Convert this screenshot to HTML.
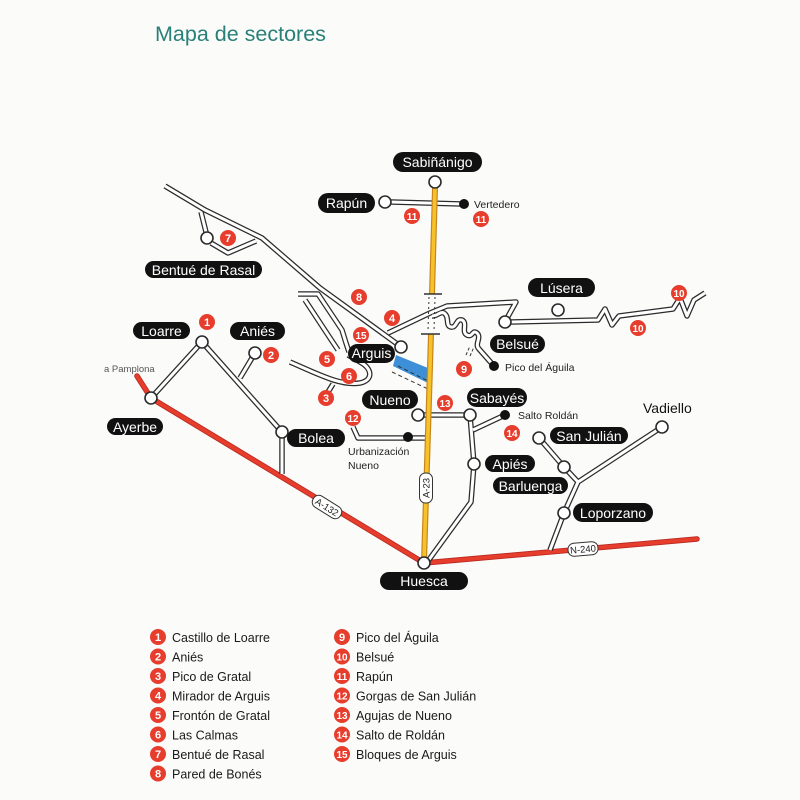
<!DOCTYPE html>
<html><head><meta charset="utf-8">
<style>
html,body{margin:0;padding:0;background:#fbfbfa;}
svg{display:block;}
text{font-family:"Liberation Sans",sans-serif;}
</style></head>
<body>
<svg width="800" height="800" viewBox="0 0 800 800" xmlns="http://www.w3.org/2000/svg">
<rect width="800" height="800" fill="#fbfbfa"/>
<text x="155" y="41" font-size="21.5" fill="#2a8078">Mapa de sectores</text>

<defs>
 <path id="r1" d="M165,186 L205,210 L262,238 L320,288 L400,346"/>
 <path id="r2" d="M388,333 L430,313 L447,306 L516,302 L506,320"/>
 <path id="r3" d="M201,212 L207,236 M211,243 L228,253 L256,241"/>
 <path id="r4" d="M391,202 L462,204"/>
 <path id="r5" d="M511,322 L598,320 L605,309 L612,325 L619,316 L673,309 L680,298 L687,316 L694,300 L705,293"/>
 <path id="r6" d="M432,316 C438,316 440,311 444,313 C450,317 445,326 451,327 C457,328 456,318 462,320 C468,323 461,332 467,335 C473,338 472,329 477,333 C482,338 474,344 479,349 L494,366"/>
 <path id="r7" d="M151,398 L202,342 L282,432 L282,474 M255,353 L240,378"/>
 <path id="r8" d="M418,415 L470,415 M470,415 L474,464 L471,502 L428,561 M473,430 L505,415"/>
 <path id="r9" d="M353,427 L358,438 L425,438"/>
 <path id="r10" d="M539,438 L564,467 L578,482 M662,427 L578,482 L564,513 L550,550"/>
 <path id="r11" d="M298,294 L318,294 L342,330 L346,343 L349,352 M305,300 L330,338 L338,350"/>
 <path id="r12" d="M290,362 C318,374 340,386 360,383 C374,380 372,368 360,362 L348,355 M333,384 L328,392"/>
</defs>

<!-- red roads -->
<g fill="none" stroke-linecap="round" stroke-linejoin="round">
 <path d="M137,376 L151,398 L424,563" stroke="#b82a20" stroke-width="5.5"/>
 <path d="M137,376 L151,398 L424,563" stroke="#e63d2d" stroke-width="3.8"/>
 <path d="M424,563 L697,539" stroke="#b82a20" stroke-width="5.5"/>
 <path d="M424,563 L697,539" stroke="#e63d2d" stroke-width="3.8"/>
</g>

<!-- reservoir -->
<polygon points="396,355 428,368 428,383 393,366" fill="#3d8fd8"/>
<g stroke="#333" stroke-width="1" stroke-dasharray="4,3" fill="none">
 <path d="M392,372 L428,389"/>
 <path d="M398,366 L428,381"/>
</g>

<!-- white double roads -->
<g fill="none" stroke="#2b2b2b" stroke-width="5.5" stroke-linejoin="round" stroke-linecap="butt">
 <use href="#r1"/><use href="#r2"/><use href="#r3"/><use href="#r4"/><use href="#r5"/><use href="#r6"/>
 <use href="#r7"/><use href="#r8"/><use href="#r9"/><use href="#r10"/><use href="#r11"/><use href="#r12"/>
</g>
<g fill="none" stroke="#ffffff" stroke-width="3" stroke-linejoin="round" stroke-linecap="butt">
 <use href="#r1"/><use href="#r2"/><use href="#r3"/><use href="#r4"/><use href="#r5"/><use href="#r6"/>
 <use href="#r7"/><use href="#r8"/><use href="#r9"/><use href="#r10"/><use href="#r11"/><use href="#r12"/>
</g>
<path d="M466,355 L470,346 M470,356 L474,347" stroke="#333" stroke-width="1" stroke-dasharray="3,2"/>

<!-- A-23 yellow -->
<g fill="none">
 <path d="M435,188 L432,294" stroke="#c8861a" stroke-width="6"/>
 <path d="M435,188 L432,294" stroke="#f7c229" stroke-width="3.6"/>
 <path d="M431,334 L424,562" stroke="#c8861a" stroke-width="6"/>
 <path d="M431,334 L424,562" stroke="#f7c229" stroke-width="3.6"/>
 <path d="M424,294 L442,294 M421,334 L440,334" stroke="#333" stroke-width="1.5"/>
 <path d="M429,297 L428,331 M435,297 L434,331" stroke="#333" stroke-width="1" stroke-dasharray="2,3"/>
</g>

<!-- shields -->
<g transform="translate(426,488) rotate(-90)">
 <rect x="-15" y="-6.5" width="30" height="13" rx="6" fill="#fff" stroke="#333" stroke-width="1"/>
 <text x="0" y="3.5" font-size="9.5" text-anchor="middle" fill="#222">A-23</text>
</g>
<g transform="translate(327,507) rotate(32)">
 <rect x="-16" y="-6.5" width="32" height="13" rx="6" fill="#fff" stroke="#333" stroke-width="1"/>
 <text x="0" y="3.5" font-size="9.5" text-anchor="middle" fill="#222">A-132</text>
</g>
<g transform="translate(583,549) rotate(-5)">
 <rect x="-15" y="-6.5" width="30" height="13" rx="6" fill="#fff" stroke="#333" stroke-width="1"/>
 <text x="0" y="3.5" font-size="9.5" text-anchor="middle" fill="#222">N-240</text>
</g>

<!-- town circles -->
<g fill="#fff" stroke="#2b2b2b" stroke-width="1.6">
 <circle cx="435" cy="182" r="6"/><circle cx="385" cy="202" r="6"/><circle cx="401" cy="347" r="6"/>
 <circle cx="558" cy="310" r="6"/><circle cx="505" cy="322" r="6"/><circle cx="202" cy="342" r="6"/>
 <circle cx="255" cy="353" r="6"/><circle cx="151" cy="398" r="6"/><circle cx="282" cy="432" r="6"/>
 <circle cx="207" cy="238" r="6"/><circle cx="418" cy="415" r="6"/><circle cx="470" cy="415" r="6"/>
 <circle cx="474" cy="464" r="6"/><circle cx="539" cy="438" r="6"/><circle cx="564" cy="467" r="6"/>
 <circle cx="662" cy="427" r="6"/><circle cx="564" cy="513" r="6"/><circle cx="424" cy="563" r="6"/>
</g>
<g fill="#111">
 <circle cx="464" cy="204" r="5"/><circle cx="494" cy="366" r="5"/>
 <circle cx="505" cy="415" r="5"/><circle cx="408" cy="437" r="5"/>
</g>

<!-- pills -->
<g fill="#111">
 <rect x="393" y="152" width="89" height="20" rx="10"/>
 <rect x="318" y="193" width="57" height="20" rx="10"/>
 <rect x="145" y="261" width="117" height="17" rx="8.5"/>
 <rect x="133" y="322" width="57" height="17" rx="8.5"/>
 <rect x="230" y="322" width="55" height="18" rx="9"/>
 <rect x="107" y="418" width="56" height="17" rx="8.5"/>
 <rect x="287" y="429" width="58" height="18" rx="9"/>
 <rect x="348" y="344" width="47" height="19" rx="9.5"/>
 <rect x="528" y="278" width="67" height="19" rx="9.5"/>
 <rect x="490" y="335" width="55" height="18" rx="9"/>
 <rect x="362" y="390" width="56" height="19" rx="9.5"/>
 <rect x="467" y="388" width="60" height="19" rx="9.5"/>
 <rect x="485" y="455" width="50" height="17" rx="8.5"/>
 <rect x="493" y="477" width="75" height="17" rx="8.5"/>
 <rect x="550" y="427" width="78" height="17" rx="8.5"/>
 <rect x="573" y="503" width="80" height="19" rx="9.5"/>
 <rect x="380" y="572" width="88" height="18" rx="9"/>
</g>
<g fill="#fff" font-size="14" text-anchor="middle">
 <text x="437.5" y="167">Sabiñánigo</text>
 <text x="346.5" y="208">Rapún</text>
 <text x="203.5" y="275">Bentué de Rasal</text>
 <text x="161.5" y="336">Loarre</text>
 <text x="257.5" y="336">Aniés</text>
 <text x="135" y="432">Ayerbe</text>
 <text x="316" y="443">Bolea</text>
 <text x="371.5" y="358">Arguis</text>
 <text x="561.5" y="293">Lúsera</text>
 <text x="517.5" y="349">Belsué</text>
 <text x="390" y="405">Nueno</text>
 <text x="497" y="403">Sabayés</text>
 <text x="510" y="469">Apiés</text>
 <text x="530.5" y="491">Barluenga</text>
 <text x="589" y="441">San Julián</text>
 <text x="613" y="518">Loporzano</text>
 <text x="424" y="586">Huesca</text>
</g>

<!-- small labels -->
<g fill="#222" font-size="10.5">
 <text x="474" y="208">Vertedero</text>
 <text x="505" y="371">Pico del Águila</text>
 <text x="518" y="419">Salto Roldán</text>
 <text x="348" y="455">Urbanización</text>
 <text x="348" y="469">Nueno</text>
</g>
<text x="104" y="372" font-size="9.5" fill="#555">a Pamplona</text>
<text x="643" y="413" font-size="14" fill="#111">Vadiello</text>

<!-- red markers on map -->
<g fill="#e63d2d">
 <circle cx="228" cy="238" r="8"/><circle cx="412" cy="216" r="8"/><circle cx="481" cy="219" r="8"/>
 <circle cx="359" cy="297" r="8"/><circle cx="392" cy="318" r="8"/><circle cx="361" cy="335" r="8"/>
 <circle cx="327" cy="359" r="8"/><circle cx="349" cy="376" r="8"/><circle cx="326" cy="398" r="8"/>
 <circle cx="207" cy="322" r="8"/><circle cx="271" cy="355" r="8"/><circle cx="464" cy="369" r="8"/>
 <circle cx="679" cy="293" r="8"/><circle cx="638" cy="328" r="8"/><circle cx="353" cy="418" r="8"/>
 <circle cx="445" cy="403" r="8"/><circle cx="512" cy="433" r="8"/>
</g>
<g fill="#fff" font-size="11" font-weight="bold" text-anchor="middle">
 <text x="228" y="242">7</text><text x="412" y="220" font-size="10">11</text><text x="481" y="223" font-size="10">11</text>
 <text x="359" y="301">8</text><text x="392" y="322">4</text><text x="361" y="339" font-size="10">15</text>
 <text x="327" y="363">5</text><text x="349" y="380">6</text><text x="326" y="402">3</text>
 <text x="207" y="326">1</text><text x="271" y="359">2</text><text x="464" y="373">9</text>
 <text x="679" y="297" font-size="10">10</text><text x="638" y="332" font-size="10">10</text><text x="353" y="422" font-size="10">12</text>
 <text x="445" y="407" font-size="10">13</text><text x="512" y="437" font-size="10">14</text>
</g>

<!-- legend -->
<g fill="#e63d2d">
 <circle cx="158" cy="637" r="8"/><circle cx="158" cy="656.5" r="8"/><circle cx="158" cy="676" r="8"/><circle cx="158" cy="695.5" r="8"/>
 <circle cx="158" cy="715" r="8"/><circle cx="158" cy="734.5" r="8"/><circle cx="158" cy="754" r="8"/><circle cx="158" cy="773.5" r="8"/>
 <circle cx="342" cy="637" r="8"/><circle cx="342" cy="656.5" r="8"/><circle cx="342" cy="676" r="8"/><circle cx="342" cy="695.5" r="8"/>
 <circle cx="342" cy="715" r="8"/><circle cx="342" cy="734.5" r="8"/><circle cx="342" cy="754" r="8"/>
</g>
<g fill="#fff" font-size="11" font-weight="bold" text-anchor="middle">
 <text x="158" y="641">1</text><text x="158" y="660.5">2</text><text x="158" y="680">3</text><text x="158" y="699.5">4</text>
 <text x="158" y="719">5</text><text x="158" y="738.5">6</text><text x="158" y="758">7</text><text x="158" y="777.5">8</text>
 <text x="342" y="641">9</text><text x="342" y="660.5" font-size="10">10</text><text x="342" y="680" font-size="10">11</text><text x="342" y="699.5" font-size="10">12</text>
 <text x="342" y="719" font-size="10">13</text><text x="342" y="738.5" font-size="10">14</text><text x="342" y="758" font-size="10">15</text>
</g>
<g fill="#1a1a1a" font-size="12.5">
 <text x="172" y="642">Castillo de Loarre</text>
 <text x="172" y="661.5">Aniés</text>
 <text x="172" y="681">Pico de Gratal</text>
 <text x="172" y="700.5">Mirador de Arguis</text>
 <text x="172" y="720">Frontón de Gratal</text>
 <text x="172" y="739.5">Las Calmas</text>
 <text x="172" y="759">Bentué de Rasal</text>
 <text x="172" y="778.5">Pared de Bonés</text>
 <text x="356" y="642">Pico del Águila</text>
 <text x="356" y="661.5">Belsué</text>
 <text x="356" y="681">Rapún</text>
 <text x="356" y="700.5">Gorgas de San Julián</text>
 <text x="356" y="720">Agujas de Nueno</text>
 <text x="356" y="739.5">Salto de Roldán</text>
 <text x="356" y="759">Bloques de Arguis</text>
</g>
</svg>
</body></html>
